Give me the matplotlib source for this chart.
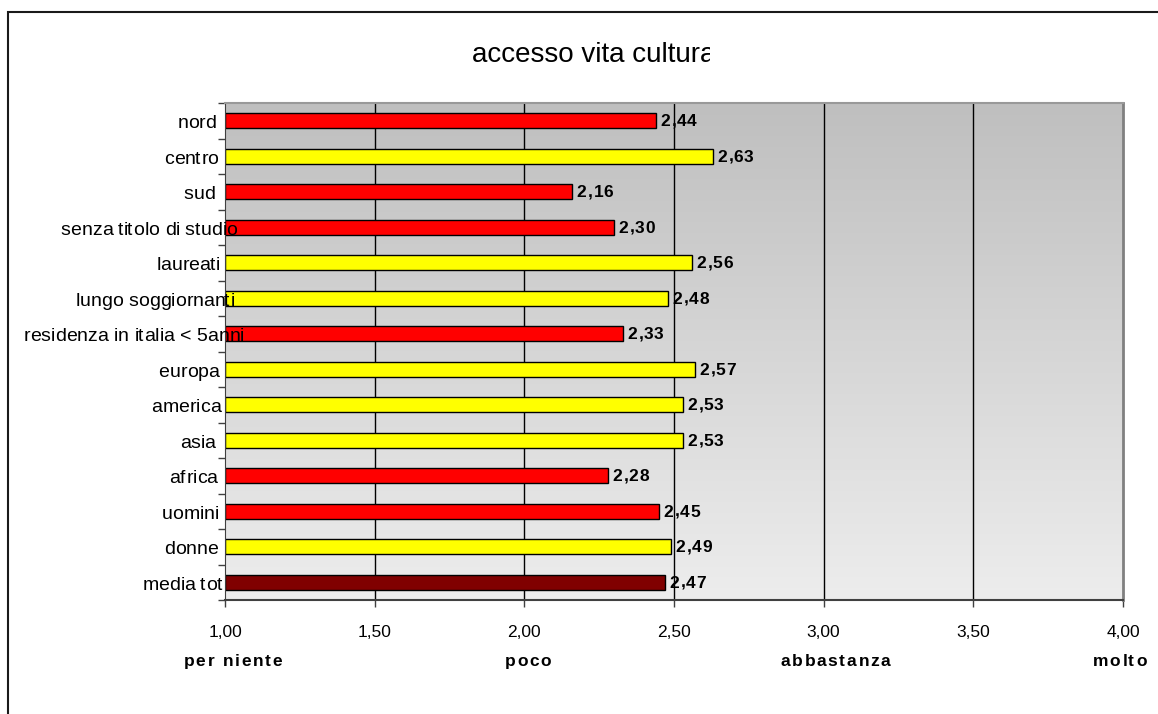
import numpy as np
import matplotlib
matplotlib.use("Agg")
import matplotlib.pyplot as plt
from matplotlib.patches import Rectangle
from matplotlib.transforms import Bbox
from matplotlib.font_manager import FontProperties, findfont
from matplotlib.ft2font import FT2Font

categories = ["nord", "centro", "sud", "senza titolo di studio", "laureati",
              "lungo soggiornanti", "residenza in italia < 5anni", "europa",
              "america", "asia", "africa", "uomini", "donne", "media tot"]
values = [2.44, 2.63, 2.16, 2.30, 2.56, 2.48, 2.33, 2.57, 2.53, 2.53, 2.28, 2.45, 2.49, 2.47]
bar_colors = ["#ff0000", "#ffff00", "#ff0000", "#ff0000", "#ffff00", "#ffff00", "#ff0000",
              "#ffff00", "#ffff00", "#ffff00", "#ff0000", "#ff0000", "#ffff00", "#800000"]
xticks = [1.0, 1.5, 2.0, 2.5, 3.0, 3.5, 4.0]
xtick_labels = ["1,00", "1,50", "2,00", "2,50", "3,00", "3,50", "4,00"]
scale_pos = [1.0, 2.0, 3.0, 4.0]
scale_labels = ["per niente", "poco", "abbastanza", "molto"]
title = "accesso vita cultura"

FAM = ['Liberation Sans', 'DejaVu Sans']
plt.rcParams['font.family'] = FAM
DPI = 100
W, H = 1158, 714


def advances(s, prop):
    f = FT2Font(findfont(prop))
    f.set_size(prop.get_size_in_points(), DPI)
    out = []
    for c in s:
        g = f.load_char(ord(c))
        out.append((g.linearHoriAdvance / 65536.0, g.horiBearingX / 64.0))
    return out


def tracked(ax, xy, s, prop, track, ha="left", dx=0.0, dy=0.0, xycoords="data", start=None):
    adv = advances(s, prop)
    total = sum(a for a, _ in adv) + track * (len(s) - 1)
    if start is None:
        start = {"left": 0.0, "center": -total / 2.0, "right": -total}[ha]
    pen = start + dx
    for ch, (a, b) in zip(s, adv):
        if ch != " ":
            ax.annotate(ch, xy=xy, xycoords=xycoords, xytext=(pen + max(b, 0), dy),
                        textcoords="offset pixels", ha="left", va="baseline",
                        fontproperties=prop, annotation_clip=False, zorder=6)
        pen += a + track


fig = plt.figure(figsize=(W / DPI, H / DPI), dpi=DPI)
ax = fig.add_axes([225 / W, 1 - 600 / H, (1123 - 225) / W, (600 - 103) / H])

# gradient background (darker at top)
grad = np.linspace(0, 1, 256).reshape(-1, 1)
cmap = matplotlib.colors.LinearSegmentedColormap.from_list("g", ["#bfbfbf", "#ededed"])
ax.imshow(grad, aspect="auto", cmap=cmap, extent=[0, 1, 0, 1], origin="upper",
          transform=ax.transAxes, zorder=0)

y = np.arange(len(categories))
ax.barh(y, [v - 1.0 for v in values], left=1.0, height=0.42, color=bar_colors,
        edgecolor="black", linewidth=1, zorder=3)

ax.set_xlim(1.0, 4.0)
ax.set_ylim(len(categories) - 0.5, -0.5)

for gx in xticks[1:-1]:
    ax.axvline(gx, color="black", linewidth=1, zorder=1)

# value labels
vprop = FontProperties(family=FAM, size=12.5, weight="bold")
for yi, v in zip(y, values):
    tracked(ax, (v, yi), f"{v:.2f}".replace(".", ","), vprop, 0.8, ha="left", dx=4, dy=-5.5)

ax.set_xticks(xticks)
ax.set_xticklabels(xtick_labels, fontsize=12.5)
ax.tick_params(axis="x", direction="out", length=5, width=1, color="#404040", pad=13)

# category labels (slightly overflowing into the plot, like the original)
ax.set_yticks(y)
ax.set_yticklabels([""] * len(categories))
ax.tick_params(axis="y", which="major", length=0)
ax.set_yticks(np.arange(len(categories) + 1) - 0.5, minor=True)
ax.tick_params(axis="y", which="minor", direction="out", length=5, width=1, color="#404040")

cprop = FontProperties(family=FAM, size=14)
for yi, lab in zip(y, categories):
    nominal = 0.845 * sum(a for a, _ in advances(lab, cprop))
    tracked(ax, (1.0, yi), lab, cprop, 0.0, start=(209 - 225) - nominal, dy=-7.6)

ax.spines["left"].set_color("#404040")
ax.spines["bottom"].set_color("#404040")
ax.spines["bottom"].set_linewidth(1.5)
ax.spines["top"].set_color("#999999")
ax.spines["top"].set_linewidth(1.5)
ax.spines["right"].set_color("#808080")
ax.spines["right"].set_linewidth(2)
for s in ax.spines.values():
    s.set_zorder(5)

# scale labels under the axis
sprop = FontProperties(family=FAM, size=12.5, weight="bold")
nudges = [7, 3, 11, -4]
for p, lab, n in zip(scale_pos, scale_labels, nudges):
    tracked(ax, (p, 0), lab, sprop, 1.7, ha="center", dx=n, dy=-66,
            xycoords=("data", "axes fraction"))

# title, clipped on the right like the original
t = fig.text(472 / W, 1 - 62 / H, title, ha="left", va="baseline", fontsize=20)
t.set_clip_box(Bbox.from_extents(0, 0, 710, H))
t.set_clip_on(True)

# figure border (extends beyond right/bottom)
fig.patches.append(Rectangle((8 / W, -0.05), 1.2, 1 - 12 / H + 0.05, transform=fig.transFigure,
                             fill=False, edgecolor="#1a1a1a", linewidth=1.5))

fig.savefig("out.png", dpi=DPI)
